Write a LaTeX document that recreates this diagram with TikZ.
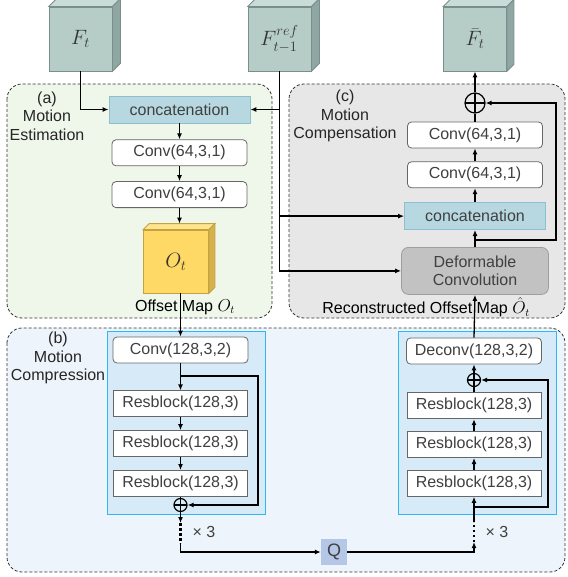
\documentclass[tikz,border=0pt]{standalone}
\usepackage{fontspec}
\setmainfont{Liberation Sans}
\usepackage{amsmath}
\usepackage{tikz}
\usetikzlibrary{shapes,positioning,calc}
\usetikzlibrary{arrows.meta}
\definecolor{cubegreen}{RGB}{181,204,199}
\definecolor{cubegreentop}{RGB}{202,220,216}
\definecolor{cubegreenside}{RGB}{142,167,162}
\definecolor{cubeedge}{RGB}{122,142,138}
\definecolor{offsetyellow}{RGB}{255,217,102}
\definecolor{offsettop}{RGB}{255,229,145}
\definecolor{offsetside}{RGB}{214,178,76}
\definecolor{offsetedge}{RGB}{196,162,64}
\definecolor{estgreen}{RGB}{239,246,234}
\definecolor{compgray}{RGB}{231,231,231}
\definecolor{cmpblue}{RGB}{238,244,251}
\definecolor{codecblue}{RGB}{214,235,247}
\definecolor{codecedge}{RGB}{48,182,240}
\definecolor{catblue}{RGB}{183,216,224}
\definecolor{catedge}{RGB}{140,192,206}
\definecolor{deformgray}{RGB}{194,194,194}
\definecolor{deformedge}{RGB}{158,158,158}
\definecolor{qblue}{RGB}{180,199,231}
\definecolor{txtgray}{RGB}{64,64,64}
\tikzstyle{arrow} = [line width=1.3pt,->,>={Latex[length=6pt,width=5pt]}]

\begin{document}
\begin{tikzpicture}[x=1pt,y=-1pt,font=\fontsize{16}{18.5}\selectfont,
	panel/.style={draw=black!80, dash pattern=on 3pt off 2pt, rounded corners=15pt, line width=0.8pt},
	convbox/.style={rectangle, draw=black!60, fill=white, rounded corners=4pt, minimum width=135pt, minimum height=26pt, text=txtgray, line width=0.8pt},
	resbox/.style={rectangle, draw=black!60, fill=white, minimum width=134pt, minimum height=26pt, text=txtgray, line width=0.8pt},
	catbox/.style={rectangle, draw=catedge, fill=catblue, minimum width=141pt, minimum height=27pt, text=txtgray, line width=0.8pt},
	codec/.style={rectangle, draw=codecedge, fill=codecblue, minimum width=158pt, minimum height=183pt, line width=0.8pt},
	cube/.style={rectangle, draw=cubeedge, fill=cubegreen, minimum width=63pt, minimum height=64pt, line width=0.8pt, text=black!80, font=\fontsize{22}{24}\selectfont},
	plusnode/.style={circle, draw=black, line width=1.2pt, inner sep=0pt, minimum size=#1,
		path picture={\draw[line width=1.2pt] (path picture bounding box.north) -- (path picture bounding box.south) (path picture bounding box.west) -- (path picture bounding box.east);}},
	conn/.style={line width=1.3pt},
	dotline/.style={line width=2.5pt, dash pattern=on 2.5pt off 2.5pt}]
	
	\useasboundingbox (0,0) rectangle (567,577);
	
	% PANELS
	
	\draw[panel, fill=estgreen] (7,84) rectangle (272,318);
	\draw[panel, fill=compgray] (289,84) rectangle (565,318);
	\draw[panel, fill=cmpblue] (7,328) rectangle (565,572);
	
	\node[align=center, text=black!85] (esttitle) at (47,116) {(a)\\Motion\\Estimation};
	\node[align=center, text=black!85] (comptitle) at (345,116) {(c)\\Motion\\Compensation};
	\node[align=center, text=black!85] (cmptitle) at (58,358) {(b)\\Motion\\Compression};
	
	% FEATURE CUBES
	
	\node[cube] (Ft) at (80.5,39) {$F_t$};
	\node[cube] (Fref) at (279.5,39) {$F_{t-1}^{ref}$};
	\node[cube] (Fbar) at (475,39) {$\bar{F}_t$};
	\node[cube, draw=offsetedge, fill=offsetyellow, minimum width=65pt, minimum height=63pt, font=\fontsize{20}{22}\selectfont] (Ot) at (176,261.5) {$O_t$};
	
	\foreach \c/\d/\top/\side/\edge in {Ft/8/cubegreentop/cubegreenside/cubeedge, Fref/8/cubegreentop/cubegreenside/cubeedge, Fbar/7/cubegreentop/cubegreenside/cubeedge, Ot/6/offsettop/offsetside/offsetedge}{
		\filldraw[draw=\edge, fill=\top, line width=0.8pt] (\c.north west) -- ++(\d,-\d) -- ($(\c.north east)+(\d,-\d)$) -- (\c.north east) -- cycle;
		\filldraw[draw=\edge, fill=\side, line width=0.8pt] (\c.north east) -- ++(\d,-\d) -- ($(\c.south east)+(\d,-\d)$) -- (\c.south east) -- cycle;
	}
	\coordinate (Otin) at ($(Ot.north)+(4,-6)$);
	
	% MOTION ESTIMATION
	
	\node[catbox] (cat1) at (179.5,109.5) {concatenation};
	\node[convbox, below=16pt of cat1] (convA1) {Conv(64,3,1)};
	\node[convbox, below=15pt of convA1] (convA2) {Conv(64,3,1)};
	\node (offlabel) at (185,307) {Offset Map $O_t$};
	
	% MOTION COMPENSATION
	
	\node[plusnode=20pt] (plusC) at (475,103) {};
	\node[convbox] (convC1) at (475,135) {Conv(64,3,1)};
	\node[convbox, below=13pt of convC1] (convC2) {Conv(64,3,1)};
	\node[catbox, below=14pt of convC2] (cat2) {concatenation};
	\node[rectangle, draw=deformedge, fill=deformgray, rounded corners=7pt, minimum width=147pt, minimum height=47pt, align=center, text=txtgray, line width=0.8pt, below=17pt of cat2] (deform) {Deformable\\Convolution};
	\node (recolabel) at (426,307) {Reconstructed Offset Map $\hat{O}_t$};
	\coordinate (skipC) at (556,240);
	
	% MOTION COMPRESSION
	
	\node[codec] (encbox) at (186,422.5) {};
	\node[codec] (decbox) at (477,422.5) {};
	
	\node[convbox] (convE) at (180.5,350) {Conv(128,3,2)};
	\node[resbox, below=27pt of convE] (resE1) {Resblock(128,3)};
	\node[resbox, below=13pt of resE1] (resE2) {Resblock(128,3)};
	\node[resbox, below=13pt of resE2] (resE3) {Resblock(128,3)};
	\node[plusnode=13pt] (plusE) at (180.5,505) {};
	\coordinate (skipE) at (258,376);
	\coordinate (dE1) at (180.5,523);
	\coordinate (dE2) at (180.5,543);
	
	\node[rectangle, fill=qblue, minimum width=26pt, minimum height=26pt, inner sep=0pt, text=txtgray, font=\fontsize{18}{20}\selectfont] (Q) at (334,552) {Q};
	
	\node[convbox] (deconv) at (474,351) {Deconv(128,3,2)};
	\node[resbox, below=28pt of deconv] (resD1) {Resblock(128,3)};
	\node[resbox, below=12pt of resD1] (resD2) {Resblock(128,3)};
	\node[resbox, below=12pt of resD2] (resD3) {Resblock(128,3)};
	\node[plusnode=13pt] (plusD) at (474,380) {};
	\coordinate (skipD) at (548,507);
	\coordinate (dD1) at (474,522);
	\coordinate (dD2) at (474,542);
	
	\node[text=txtgray] (repE) at (204,532) {× 3};
	\node[text=txtgray] (repD) at (497,532) {× 3};
	
	% CONNECTIONS
	
	\draw[arrow] (Ft.south) |- (cat1.west);
	\draw[arrow] (Fref.south) |- (deform.west);
	\draw[arrow] (Fref.south |- cat1.east) -- (cat1.east);
	\draw[arrow] (Fref.south |- cat2.west) -- (cat2.west);
	
	\draw[arrow] (cat1) -- (convA1);
	\draw[arrow] (convA1) -- (convA2);
	\draw[arrow] (convA2.south) -- (convA2.south |- Otin);
	\draw[arrow] (convE.north |- Ot.south) -- (convE.north);
	
	\draw[arrow] (convE) -- (resE1);
	\draw[arrow] (resE1) -- (resE2);
	\draw[arrow] (resE2) -- (resE3);
	\draw[conn] (resE3) -- (plusE);
	\draw[arrow] (convE.south |- skipE) -- (skipE) |- (plusE.east);
	\draw[arrow] (plusE) -- (dE1);
	\draw[dotline] (dE1) -- (dE2);
	\draw[arrow] (dE2) |- (Q.west);
	
	\draw[arrow] (Q.east) -| (dD2);
	\draw[dotline] (dD2) -- (dD1);
	\draw[arrow] (dD1) -- (resD3.south);
	\draw[arrow] (resD3) -- (resD2);
	\draw[arrow] (resD2) -- (resD1);
	\draw[conn] (resD1) -- (plusD);
	\draw[arrow] (resD3.south |- skipD) -- (skipD) |- (plusD.east);
	\draw[arrow] (plusD) -- (deconv);
	\draw[arrow] (deconv.north) -- (deform.south);
	
	\draw[arrow] (deform) -- (cat2);
	\draw[arrow] (cat2) -- (convC2);
	\draw[arrow] (convC2) -- (convC1);
	\draw[conn] (convC1) -- (plusC);
	\draw[arrow] (plusC) -- (Fbar.south);
	\draw[arrow] (deform.north |- skipC) -- (skipC) |- (plusC.east);
	
\end{tikzpicture}
\end{document}
